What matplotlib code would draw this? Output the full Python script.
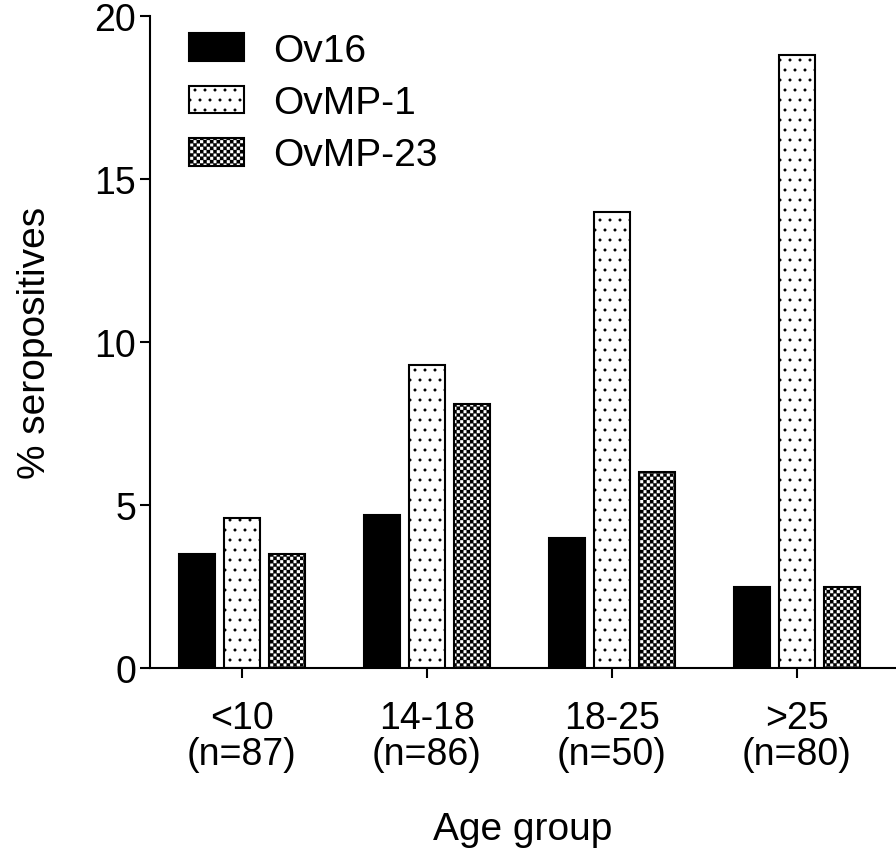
import numpy as np
import matplotlib
matplotlib.use("Agg")
import matplotlib.pyplot as plt
import matplotlib.hatch as mhatch
from matplotlib.path import Path

groups = ["<10\n(n=87)", "14-18\n(n=86)", "18-25\n(n=50)", ">25\n(n=80)"]
series = ["Ov16", "OvMP-1", "OvMP-23"]
ov16 = [3.5, 4.7, 4.0, 2.5]
ovmp1 = [4.6, 9.3, 14.0, 18.8]
ovmp23 = [3.5, 8.1, 6.0, 2.5]


# custom hatches: staggered small dots ('.') and a checkerboard ('x')
class Dots(mhatch.Circles):
    size = 0.13
    filled = True

    def __init__(self, hatch, density):
        self.num_rows = hatch.count('.') * 10
        super().__init__(hatch, density)


class Checker(mhatch.HatchPatternBase):
    def __init__(self, hatch, density):
        self.n = hatch.count('x') * 30
        self.num_vertices = (self.n * self.n // 2) * 5

    def set_vertices_and_codes(self, vertices, codes):
        s = 1.0 / self.n
        sq = np.array([[0, 0], [s, 0], [s, s], [0, s], [0, 0]])
        k = 0
        for i in range(self.n):
            for j in range(self.n):
                if (i + j) % 2 == 0:
                    vertices[k:k + 5] = sq + [i * s, j * s]
                    codes[k:k + 5] = [Path.MOVETO, Path.LINETO, Path.LINETO,
                                      Path.LINETO, Path.CLOSEPOLY]
                    k += 5


mhatch._hatch_types = [Dots, Checker]

plt.rcParams['font.family'] = ['Liberation Sans', 'DejaVu Sans']
plt.rcParams['hatch.linewidth'] = 0.2

fig = plt.figure(figsize=(8.96, 8.54), dpi=100)
ax = fig.add_axes([150 / 896, 1 - 669 / 854, 746 / 896, (669 - 17) / 854])

x = np.arange(len(groups))
w = 0.195
step = 0.243
lw = 1.5
ax.bar(x - step, ov16, w, color='black', edgecolor='black', linewidth=lw, label=series[0])
ax.bar(x, ovmp1, w, color='white', edgecolor='black', linewidth=lw, hatch='.', label=series[1])
ax.bar(x + step, ovmp23, w, color='white', edgecolor='black', linewidth=lw, hatch='x', label=series[2])

ax.set_xlim(-0.497, 3.535)
ax.set_ylim(0, 20)
ax.set_yticks([0, 5, 10, 15, 20])
ax.set_xticks(x)
ax.set_xticklabels(groups, fontsize=27, linespacing=1.0)
ax.tick_params(axis='y', labelsize=27, length=7, width=1.5, pad=3)
ax.tick_params(axis='x', length=7, width=1.5, pad=16)

for s in ['top', 'right']:
    ax.spines[s].set_visible(False)
for s in ['left', 'bottom']:
    ax.spines[s].set_linewidth(1.5)

ax.set_ylabel("% seropositives", fontsize=28, labelpad=30)
ax.set_xlabel("Age group", fontsize=28, labelpad=28)

ax.legend(loc='upper left', bbox_to_anchor=(0.005, 1.028), frameon=False,
          fontsize=28, handlelength=1.41, handleheight=0.72,
          handletextpad=0.75, labelspacing=0.42)

fig.savefig("out.png", dpi=100)
